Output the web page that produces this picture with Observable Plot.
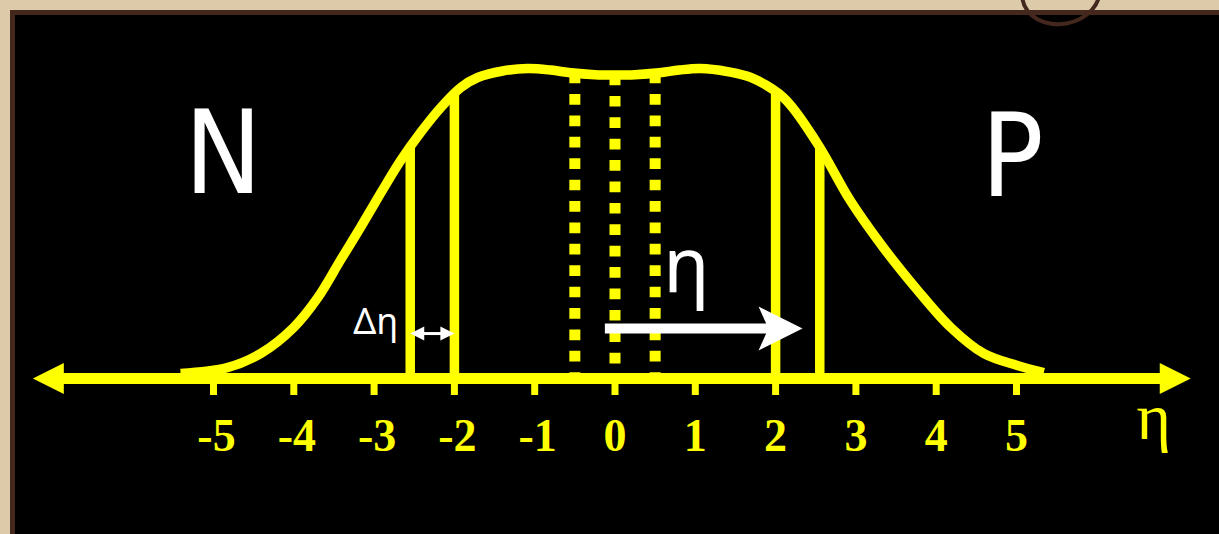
<!DOCTYPE html>
<html>
<head>
<meta charset="utf-8">
<script src="https://cdn.jsdelivr.net/npm/d3@7"></script>
<script src="https://cdn.jsdelivr.net/npm/@observablehq/plot@0.6"></script>
<style>
  html, body { margin: 0; padding: 0; width: 1219px; height: 534px; overflow: hidden; background: #dccaa8; }
  #board { position: absolute; left: 10px; top: 10px; width: 1240px; height: 560px; background: #000; border: 5px solid #44271d; }
  #ring { position: absolute; left: 1020px; top: -40px; width: 74px; height: 58px; border: 4px solid #44271d; border-radius: 50%; transform: rotate(-10deg); }
  #chart { position: absolute; left: 0; top: 0; }
</style>
</head>
<body>
<div id="board"></div>
<div id="ring"></div>
<div id="chart"></div>
<script>
// Pseudorapidity distribution dN/dη (normalised to the plateau maximum)
const etaLeft   = [-5.41, -4.83, -4.41, -4.00, -3.70, -3.42, -3.17, -2.92, -2.67, -2.42, -2.17, -1.92, -1.71, -1.40, -1.09, -0.80, -0.55, -0.25, 0];
const dndLeft   = [0.016, 0.035, 0.081, 0.165, 0.261, 0.381, 0.487, 0.597, 0.703, 0.794, 0.874, 0.939, 0.971, 0.992, 1.000, 0.995, 0.986, 0.980, 0.979];
const etaRight  = [0.25, 0.55, 0.80, 1.06, 1.40, 1.69, 2.10, 2.52, 2.93, 3.34, 3.77, 4.18, 4.59, 5.01, 5.34];
const dndRight  = [0.980, 0.986, 0.995, 1.000, 0.990, 0.971, 0.906, 0.758, 0.574, 0.423, 0.284, 0.165, 0.081, 0.042, 0.019];

// η axis
const tickValues = [-5, -4, -3, -2, -1, 0, 1, 2, 3, 4, 5];
const axisTips = [-7.25, 7.17];

// Rapidity bins: the Δη window on each side, and thin central slices
const etaCuts = [-2.55, -2, 2, 2.55];
const etaSlices = [-0.5, 0, 0.5];

// The Δη double arrow and the η shift arrow
const deltaSpan = [-2.55, -2.0];
const deltaLevel = 0.145;
const shiftSpan = [-0.12, 2.335];
const shiftLevel = 0.161;

// Annotation texts
const sideLabels = [
  {eta: -4.88, v: 0.60, text: "N"},
  {eta: 4.95, v: 0.59, text: "P"}
];
const whiteLabels = [
  {eta: -2.98, v: 0.145, text: "Δη", size: 36},
  {eta: 0.89, v: 0.277, text: "η", size: 76}
];
const axisName = {eta: 6.71, text: "η"};

const yellow = "#ffff00";
const serif = "Liberation Serif, Times New Roman, serif";

const curve = etaLeft.map((e, i) => ({eta: e, v: dndLeft[i]}))
  .concat(etaRight.map((e, i) => ({eta: e, v: dndRight[i]})));

// height of the distribution at a given η (linear between samples)
const bis = d3.bisector(d => d.eta).left;
function heightAt(e) {
  const i = bis(curve, e);
  const a = curve[i - 1], b = curve[i];
  if (!a) return b.v;
  if (!b) return a.v;
  return a.v + (b.v - a.v) * (e - a.eta) / (b.eta - a.eta);
}

// filled arrowhead pointing along +x; optional notch at the back
function arrowHead(notch = 0) {
  return {
    draw(ctx, size) {
      const r = Math.sqrt(size / Math.PI);
      ctx.moveTo(r, 0);
      ctx.lineTo(-r, -r);
      ctx.lineTo(-r + notch * r, 0);
      ctx.lineTo(-r, r);
      ctx.closePath();
    }
  };
}

const fmt = d => (d < 0 ? "-" + Math.abs(d) : String(d));
const tickLabelStyle = {y: 0, dy: 72, text: fmt, fill: yellow, fontSize: 46, fontWeight: "bold", fontFamily: serif, lineAnchor: "bottom"};

const chart = Plot.plot({
  width: 1219,
  height: 534,
  marginTop: 0,
  marginRight: 0,
  marginBottom: 150,
  marginLeft: 0,
  style: {background: "transparent", overflow: "visible"},
  x: {domain: [-5, 5], range: [213, 1016]},
  y: {domain: [0, 1], range: [378, 68], axis: null},
  marks: [
    // bin edges
    Plot.ruleX(etaCuts, {x: d => d, y1: 0, y2: d => heightAt(d), stroke: yellow, strokeWidth: 9.5}),
    Plot.ruleX(etaSlices, {x: d => d, y1: d => heightAt(d), y2: 0, stroke: yellow, strokeWidth: 11, strokeDasharray: "10.7,10.7"}),
    // distribution
    Plot.line(curve, {x: "eta", y: "v", curve: "catmull-rom", stroke: yellow, strokeWidth: 9.5, strokeLinecap: "butt"}),
    // η axis with arrowheads
    Plot.ruleY([0], {x1: axisTips[0], x2: axisTips[1], insetLeft: 25, insetRight: 25, stroke: yellow, strokeWidth: 11}),
    Plot.dot([axisTips[1]], {x: d => d, y: 0, dx: -15.5, r: 15.5, symbol: arrowHead(), fill: yellow, stroke: "none"}),
    Plot.dot([axisTips[0]], {x: d => d, y: 0, dx: 15.5, r: 15.5, symbol: arrowHead(), rotate: 180, fill: yellow, stroke: "none"}),
    Plot.axisX({ticks: tickValues, tickSize: 11, strokeWidth: 7, stroke: yellow, tickFormat: () => "", label: null}),
    Plot.text(tickValues.filter(d => d < 0), {x: d => d, dx: 3, ...tickLabelStyle}),
    Plot.text(tickValues.filter(d => d >= 0), {x: d => d, ...tickLabelStyle}),
    Plot.text([axisName], {x: "eta", y: 0, dy: 60, text: "text", fill: yellow, fontSize: 66, fontFamily: serif, lineAnchor: "bottom"}),
    // Δη double arrow
    Plot.ruleY([deltaLevel], {x1: deltaSpan[0], x2: deltaSpan[1], insetLeft: 8, insetRight: 8, stroke: "white", strokeWidth: 3}),
    Plot.dot([deltaSpan[1]], {x: d => d, y: deltaLevel, dx: -7, r: 7, symbol: arrowHead(), fill: "white", stroke: "none"}),
    Plot.dot([deltaSpan[0]], {x: d => d, y: deltaLevel, dx: 7, r: 7, symbol: arrowHead(), rotate: 180, fill: "white", stroke: "none"}),
    // η shift arrow
    Plot.ruleY([shiftLevel], {x1: shiftSpan[0], x2: shiftSpan[1], insetRight: 30, stroke: "white", strokeWidth: 10}),
    Plot.dot([shiftSpan[1]], {x: d => d, y: shiftLevel, dx: -22, r: 22, symbol: arrowHead(0.45), fill: "white", stroke: "none"}),
    // labels
    Plot.text(whiteLabels, {x: "eta", y: "v", text: "text", fontSize: d => d.size, fill: "white", fontFamily: "Noto Sans, DejaVu Sans, sans-serif", lineAnchor: "bottom"}),
    Plot.text(sideLabels, {x: "eta", y: "v", text: "text", fill: "white", fontSize: 115, fontWeight: 300, fontFamily: "Liberation Sans Narrow, DejaVu Sans Condensed, sans-serif", lineAnchor: "bottom"})
  ]
});

document.getElementById("chart").appendChild(chart);
</script>
</body>
</html>
